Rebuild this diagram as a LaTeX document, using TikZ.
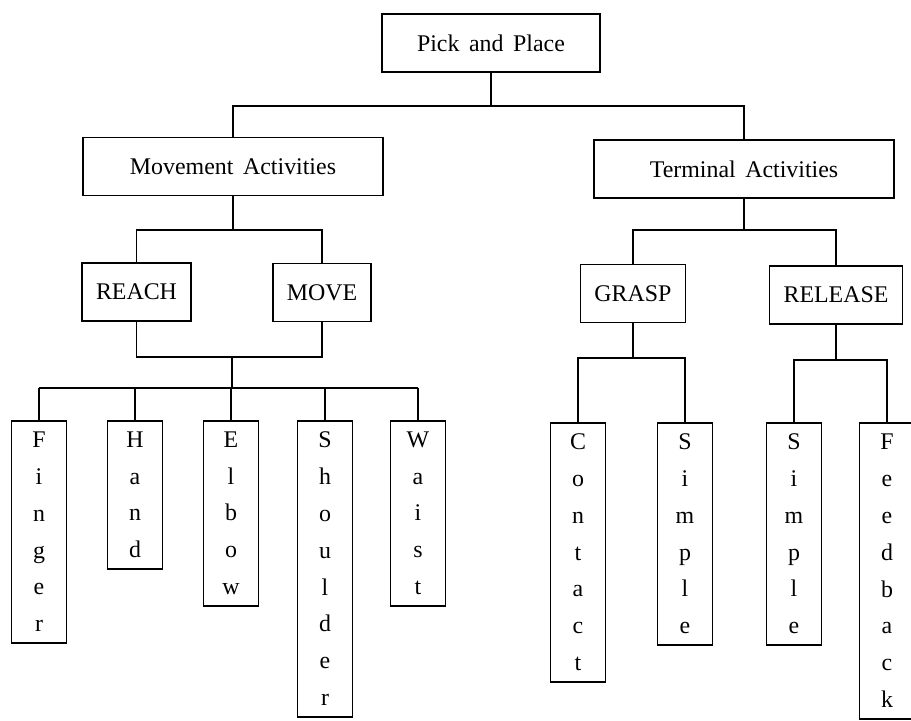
\documentclass[tikz,border=0pt]{standalone}
\usepackage{fontspec}
\setmainfont{Liberation Serif}[WordSpace=1.6]
\usepackage{tikz}
\usetikzlibrary{positioning}
\tikzset{
  headbox/.style={
    rectangle, draw=black, line width=1.1pt, minimum width=#1,
    minimum height=14.6mm, inner sep=0pt, font=\fontsize{17}{20}\selectfont
  },
  actbox/.style={
    rectangle, draw=black, line width=1.1pt, minimum height=14.6mm,
    inner xsep=3.5mm, font=\fontsize{17}{20}\selectfont
  },
  letterbox/.style={
    rectangle, draw=black, line width=1.1pt, minimum width=13.75mm,
    minimum height=#1*9.25mm, align=center, anchor=north, inner sep=0pt,
    font=\fontsize{17}{26.2}\selectfont
  },
  link/.style={line width=1.1pt, color=black},
}

\begin{document}
\begin{tikzpicture}[x=0.25mm, y=-0.25mm]
  \useasboundingbox (0,0) rectangle (911,720);
  \clip (0,0) rectangle (911,720);

  %% Top level
  \node[headbox=54.5mm] (pick) at (491,43) {Pick and Place};
  \node[headbox=75mm] (movact) at (233,166.5) {Movement Activities};
  \node[headbox=75mm] (termact) at (744,169) {Terminal Activities};

  \coordinate (b1) at (491,106);
  \draw[link] (pick.south) -- (b1);
  \draw[link] (movact.north) |- (b1) -| (termact.north);

  %% Movement side
  \node[actbox] (reach) at (136.5,292) {REACH};
  \node[actbox] (move) at (322,292.5) {MOVE};

  \coordinate (b2) at (233,230);
  \draw[link] (movact.south) -- (b2);
  \draw[link] (reach.north) |- (b2) -| (move.north);

  \coordinate (b3) at (232,357);
  \coordinate (b4) at (232,388);
  \draw[link] (reach.south) |- (b3) -| (move.south);
  \draw[link] (b3) -- (b4);

  \node[letterbox=6] (finger) at (39,420) {F\\i\\n\\g\\e\\r};
  \node[letterbox=4] (hand) at (135,420) {H\\a\\n\\d};
  \node[letterbox=5] (elbow) at (231,420) {E\\l\\b\\o\\w};
  \node[letterbox=8] (shoulder) at (325,420) {S\\h\\o\\u\\l\\d\\e\\r};
  \node[letterbox=5] (waist) at (418,420) {W\\a\\i\\s\\t};

  \draw[link] (finger.north |- b4) -- (waist.north |- b4);
  \foreach \n in {finger,hand,elbow,shoulder,waist}
    \draw[link] (\n.north) -- (\n.north |- b4);

  %% Terminal side
  \node[actbox] (grasp) at (633,293.5) {GRASP};
  \node[actbox] (release) at (836,295) {RELEASE};

  \coordinate (b5) at (744,230);
  \draw[link] (termact.south) -- (b5);
  \draw[link] (grasp.north) |- (b5) -| (release.north);

  \node[letterbox=7] (contact) at (578,422) {C\\o\\n\\t\\a\\c\\t};
  \node[letterbox=6] (simplea) at (685,422) {S\\i\\m\\p\\l\\e};
  \node[letterbox=6] (simpleb) at (794,422) {S\\i\\m\\p\\l\\e};
  \node[letterbox=8] (feedback) at (887,422) {F\\e\\e\\d\\b\\a\\c\\k};

  \coordinate (b6) at (633,358);
  \draw[link] (grasp.south) -- (b6);
  \draw[link] (contact.north) |- (b6) -| (simplea.north);

  \coordinate (b7) at (836,360);
  \draw[link] (release.south) -- (b7);
  \draw[link] (simpleb.north) |- (b7) -| (feedback.north);
\end{tikzpicture}
\end{document}
